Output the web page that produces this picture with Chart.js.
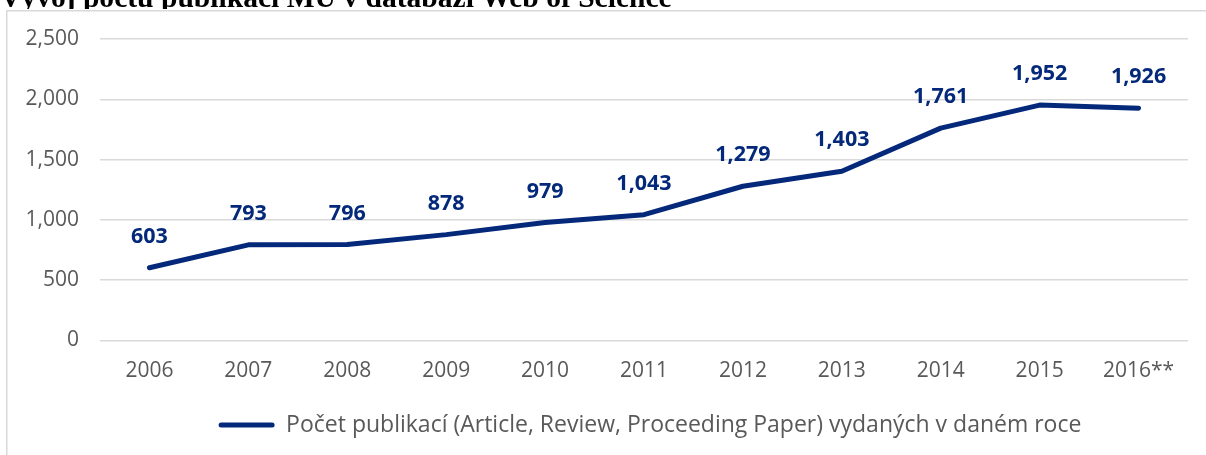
<!DOCTYPE html>
<html>
<head>
<meta charset="utf-8">
<script src="https://cdn.jsdelivr.net/npm/chart.js@4.4.0/dist/chart.umd.min.js"></script>
<style>
html,body{margin:0;padding:0;background:#fff;overflow:hidden}
#wrap{position:relative;width:1206px;height:455px}
canvas{display:block}
</style>
</head>
<body>
<div id="wrap"><canvas id="c" width="1206" height="455"></canvas></div>
<script>
const chartTitle = "Vývoj počtu publikací MU v databázi Web of Science";
const categories = ["2006", "2007", "2008", "2009", "2010", "2011", "2012", "2013", "2014", "2015", "2016**"];
const seriesName = "Počet publikací (Article, Review, Proceeding Paper) vydaných v daném roce";
const publications = [603, 793, 796, 878, 979, 1043, 1279, 1403, 1761, 1952, 1926];
const yMin = 0;
const yMax = 2500;
const yStep = 500;

const NAVY = "#04297A";
const GRAY_TEXT = "#595959";
const GRID = "#d9d9d9";
const FONT = '"Open Sans"';
const fmt = v => Number(v).toLocaleString("en-US");

const framePlugin = {
  id: "frame",
  beforeDraw(chart) {
    const ctx = chart.ctx;
    ctx.save();
    ctx.fillStyle = "#fff";
    ctx.fillRect(0, 0, chart.width, chart.height);
    // title (cut off at top, as in the reference)
    ctx.beginPath();
    ctx.rect(0, 0, chart.width, 9);
    ctx.clip();
    ctx.font = 'bold 100px "Liberation Serif"';
    const w100 = ctx.measureText(chartTitle).width;
    const size = 100 * 672 / w100;
    ctx.font = 'bold ' + size.toFixed(2) + 'px "Liberation Serif"';
    ctx.fillStyle = "#000";
    ctx.textAlign = "left";
    ctx.textBaseline = "alphabetic";
    ctx.fillText(chartTitle, 0, 7);
    ctx.restore();
    // chart box border
    ctx.save();
    ctx.strokeStyle = GRID;
    ctx.lineWidth = 1.5;
    ctx.strokeRect(6.75, 10.75, chart.width + 50, chart.height + 50);
    ctx.restore();
  }
};

const legendShift = {
  id: "legendShift",
  afterLayout(chart) {
    const lg = chart.legend;
    if (!lg || !lg.lineWidths) return;
    const pad = lg.options.labels.padding;
    const start = (lg.left + pad + lg.right - lg.lineWidths[0]) / 2;
    const desiredCenter = 650;
    const curCenter = start + (lg.lineWidths[0] - pad) / 2;
    const dx = desiredCenter - curCenter;
    lg.left += dx;
    lg.right += dx;
  }
};

const dataLabels = {
  id: "dataLabels",
  afterDatasetsDraw(chart) {
    const ctx = chart.ctx;
    const meta = chart.getDatasetMeta(0);
    const data = chart.data.datasets[0].data;
    ctx.save();
    ctx.font = 'bold 21.5px ' + FONT;
    ctx.fillStyle = NAVY;
    ctx.textAlign = "center";
    ctx.textBaseline = "middle";
    meta.data.forEach((pt, i) => {
      ctx.fillText(fmt(data[i]), pt.x, pt.y - 31);
    });
    ctx.restore();
  }
};

new Chart(document.getElementById("c"), {
  type: "line",
  data: {
    labels: categories,
    datasets: [{
      label: seriesName,
      data: publications,
      borderColor: NAVY,
      backgroundColor: NAVY,
      borderWidth: 5,
      borderCapStyle: "round",
      borderJoinStyle: "round",
      pointRadius: 0,
      pointHoverRadius: 0,
      tension: 0,
      fill: false
    }]
  },
  options: {
    responsive: false,
    animation: false,
    devicePixelRatio: 1,
    layout: { padding: { top: 39, right: 18, left: 0, bottom: 8.5 } },
    plugins: {
      title: { display: false },
      tooltip: { enabled: false },
      legend: {
        display: true,
        position: "bottom",
        labels: {
          boxWidth: 56,
          boxHeight: 5,
          padding: 10,
          useBorderRadius: true,
          borderRadius: 2.5,
          color: GRAY_TEXT,
          font: { family: FONT, size: 23 },
          generateLabels: (chart) => [{
            text: seriesName,
            fillStyle: NAVY,
            strokeStyle: NAVY,
            lineWidth: 0,
            borderRadius: 2.5,
            fontColor: GRAY_TEXT,
            datasetIndex: 0,
            hidden: false
          }]
        }
      }
    },
    scales: {
      x: {
        offset: true,
        grid: { display: false, drawTicks: false },
        border: { display: false },
        ticks: { color: GRAY_TEXT, font: { family: FONT, size: 21 }, padding: 18, maxRotation: 0, autoSkip: false },
        afterFit: s => { s.height = 63; }
      },
      y: {
        min: yMin,
        max: yMax,
        grid: { color: GRID, lineWidth: 1.5, drawTicks: false },
        border: { display: false },
        ticks: {
          stepSize: yStep,
          color: GRAY_TEXT,
          font: { family: FONT, size: 21 },
          padding: 21,
          callback: v => fmt(v)
        },
        afterFit: s => { s.width = 100; }
      }
    }
  },
  plugins: [framePlugin, legendShift, dataLabels]
});
</script>
</body>
</html>
